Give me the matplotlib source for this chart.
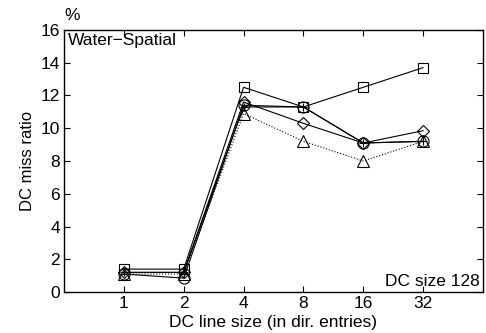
import matplotlib
matplotlib.use("Agg")
import matplotlib.pyplot as plt

plt.rcParams['font.family'] = ['Liberation Sans', 'DejaVu Sans']

line_sizes = ["1", "2", "4", "8", "16", "32"]
square_vals = [1.4, 1.4, 12.5, 11.3, 12.5, 13.7]
circle_vals = [1.1, 0.85, 11.4, 11.3, 9.1, 9.2]
diamond_vals = [1.2, 1.2, 11.6, 10.3, 9.1, 9.85]
plus_vals = [1.2, 1.2, 11.3, 11.3, 9.1, 9.2]
triangle_vals = [1.1, 1.1, 10.9, 9.2, 8.0, 9.2]

x = list(range(1, len(line_sizes) + 1))

fs = 12.5
fig = plt.figure(figsize=(4.86, 3.33), dpi=100)
ax = fig.add_axes([0.1317, 0.123, 0.862, 0.787])

mk = dict(markerfacecolor='none', markeredgecolor='black', markeredgewidth=0.8, color='black', linewidth=0.8)
ax.plot(x, square_vals, marker='s', markersize=7, linestyle='-', **mk)
ax.plot(x, circle_vals, marker='o', markersize=8, linestyle='-', **mk)
ax.plot(x, diamond_vals, marker='D', markersize=6.5, linestyle='-', **mk)
ax.plot(x, plus_vals, marker='+', markersize=6, linestyle='-', **mk)
ax.plot(x, triangle_vals, marker='^', markersize=8, linestyle=':', **mk)

ax.set_xlim(0, 7)
ax.set_ylim(0, 16)
ax.set_xticks(x)
ax.set_xticklabels(line_sizes)
ax.set_yticks(range(0, 17, 2))
ax.tick_params(direction='in', top=True, right=True, labelsize=fs, length=4, width=0.8, pad=3)
for s in ax.spines.values():
    s.set_linewidth(1.0)

ax.set_xlabel("DC line size (in dir. entries)", fontsize=fs, labelpad=3)
ax.set_ylabel("DC miss ratio", fontsize=12, labelpad=4)
ax.text(0.01, 0.99, "Water\u2212Spatial", transform=ax.transAxes, ha='left', va='top', fontsize=fs)
ax.text(0.992, 0.01, "DC size 128", transform=ax.transAxes, ha='right', va='bottom', fontsize=fs)
ax.text(0.0, 1.025, "%", transform=ax.transAxes, ha='left', va='bottom', fontsize=fs)

fig.savefig("out.png", dpi=100)
